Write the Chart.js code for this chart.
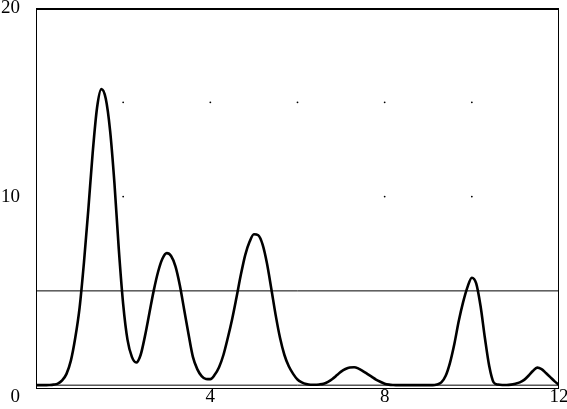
<!DOCTYPE html>
<html>
<head>
<meta charset="utf-8">
<script src="https://cdn.jsdelivr.net/npm/chart.js@4/dist/chart.umd.min.js"></script>
<style>
html,body{margin:0;padding:0;background:#fff;}
#wrap{width:567px;height:409px;}
</style>
</head>
<body>
<div id="wrap"><canvas id="c" width="567" height="409"></canvas></div>
<script>
// ---- data ----
const curveX = [0,0.1,0.2,0.3,0.4,0.5,0.6,0.7,0.8,0.9,
  1,1.1,1.2,1.3,1.4,1.5,1.6,1.7,1.8,1.9,
  2,2.1,2.2,2.3,2.4,2.5,2.6,2.7,2.8,2.9,
  3,3.1,3.2,3.3,3.4,3.5,3.6,3.7,3.8,3.9,
  4,4.1,4.2,4.3,4.4,4.5,4.6,4.7,4.8,4.9,
  5,5.1,5.2,5.3,5.4,5.5,5.6,5.7,5.8,5.9,
  6,6.1,6.2,6.3,6.4,6.5,6.6,6.7,6.8,6.9,
  7,7.1,7.2,7.3,7.4,7.5,7.6,7.7,7.8,7.9,
  8,8.1,8.2,8.3,8.4,8.5,8.6,8.7,8.8,8.9,
  9,9.1,9.2,9.3,9.4,9.5,9.6,9.7,9.8,9.9,
  10,10.1,10.2,10.3,10.4,10.5,10.6,10.7,10.8,10.9,
  11,11.1,11.2,11.3,11.4,11.5,11.6,11.7,11.8,11.9,12];
const curveY = [0,0,0,0.01,0.03,0.08,0.25,0.6,1.3,2.5,
  4.1,6.5,9.3,12.3,14.7,15.7,15.2,13.5,10.7,7.2,
  4.3,2.4,1.5,1.2,1.6,2.6,3.8,5.0,6.0,6.7,
  7.0,6.85,6.3,5.3,4.0,2.7,1.5,0.85,0.48,0.33,
  0.32,0.55,0.95,1.6,2.5,3.5,4.65,5.85,6.9,7.6,
  8.0,7.95,7.45,6.45,5.1,3.7,2.5,1.6,1.0,0.6,
  0.3,0.15,0.06,0.02,0.02,0.04,0.08,0.18,0.33,0.52,
  0.72,0.86,0.94,0.95,0.88,0.75,0.6,0.45,0.3,0.18,
  0.08,0.03,0.01,0,0,0,0,0,0,0,
  0,0,0.04,0.15,0.5,1.2,2.2,3.4,4.4,5.2,
  5.7,5.4,4.2,2.5,1.0,0.15,0.03,0.01,0.01,0.03,
  0.08,0.15,0.28,0.5,0.75,0.93,0.85,0.65,0.43,0.2,0.02];
const refLevels = [0, 5];
const dotX = [2,4,6,8,10,2,8,10];
const dotY = [15,15,15,15,15,10,10,10];
const xTicks = [4, 8, 12];
const yTicks = [10, 20];
const originLabel = "0";
const xMin = 0, xMax = 12, yMin = -0.15, yMax = 20;

// ---- build datasets ----
const datasets = [];
refLevels.forEach(v => {
  datasets.push({
    data: [{x: xMin, y: v}, {x: xMax, y: v}],
    borderColor: '#000', borderWidth: 1, pointRadius: 0, tension: 0
  });
});
datasets.push({
  data: dotX.map((x, i) => ({x: x, y: dotY[i]})),
  showLine: false, pointRadius: 0.9, pointBackgroundColor: '#000',
  pointBorderWidth: 0, borderColor: '#000'
});
datasets.push({
  data: curveX.map((x, i) => ({x: x, y: curveY[i]})),
  borderColor: '#000', borderWidth: 2.6, pointRadius: 0,
  cubicInterpolationMode: 'monotone',
  borderJoinStyle: 'round', borderCapStyle: 'round'
});

const FONT = {family: "'Liberation Serif','Times New Roman',serif", size: 19, lineHeight: 1};

const framePlugin = {
  id: 'frame',
  afterDatasetsDraw(chart) {
    const {ctx, chartArea: a} = chart;
    ctx.save();
    ctx.strokeStyle = '#000';
    ctx.lineWidth = 1;
    ctx.strokeRect(a.left + 0.5, a.top + 0.5, a.right - a.left - 1, a.bottom - a.top);
    ctx.lineWidth = 2;
    ctx.beginPath();
    ctx.moveTo(a.left, a.top + 1);
    ctx.lineTo(a.right, a.top + 1);
    ctx.stroke();
    // origin label, drawn in the y-label column on the x-label row
    const ys = chart.scales.y, xs = chart.scales.x;
    ctx.fillStyle = '#000';
    ctx.font = FONT.size + "px " + FONT.family;
    ctx.textAlign = 'right';
    ctx.textBaseline = 'middle';
    ctx.fillText(originLabel, ys.right - 16, xs.top + 9);
    ctx.restore();
  }
};

new Chart(document.getElementById('c'), {
  type: 'line',
  data: {datasets: datasets},
  options: {
    responsive: false,
    animation: false,
    devicePixelRatio: 1,
    layout: {padding: {top: 8, right: 8, left: 0, bottom: 0}},
    plugins: {legend: {display: false}, tooltip: {enabled: false}},
    scales: {
      x: {
        type: 'linear', min: xMin, max: xMax,
        grid: {display: false, drawTicks: false},
        border: {display: false},
        ticks: {color: '#000', font: FONT, padding: 0, maxRotation: 0, autoSkip: false},
        afterBuildTicks: s => { s.ticks = xTicks.map(v => ({value: v})); },
        afterFit: s => { s.height = 21; s.paddingLeft = 0; s.paddingRight = 0; }
      },
      y: {
        type: 'linear', min: yMin, max: yMax,
        grid: {display: false, drawTicks: false},
        border: {display: false},
        ticks: {color: '#000', font: FONT, padding: 16},
        afterBuildTicks: s => { s.ticks = yTicks.map(v => ({value: v})); },
        afterFit: s => { s.width = 36; s.paddingTop = 0; s.paddingBottom = 0; }
      }
    }
  },
  plugins: [framePlugin]
});
</script>
</body>
</html>
